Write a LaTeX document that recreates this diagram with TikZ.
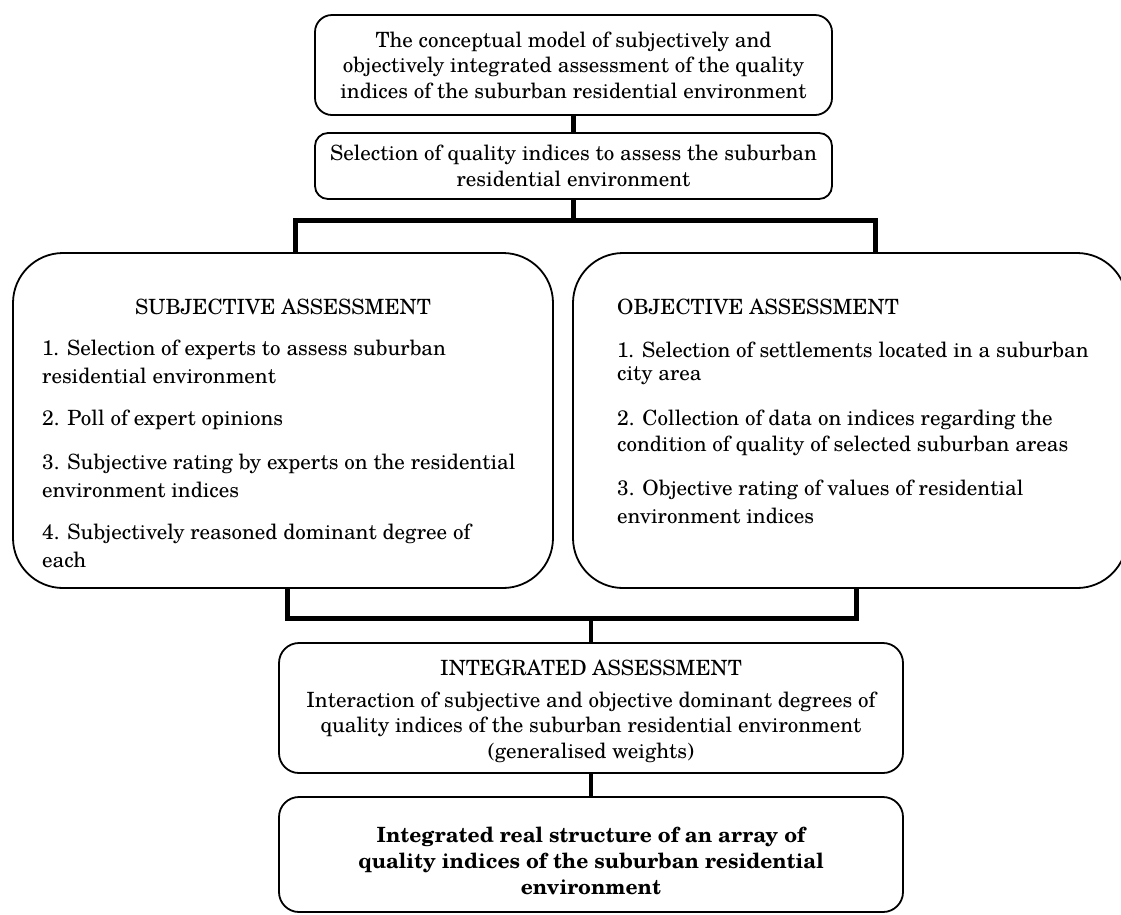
\documentclass[tikz,border=0pt]{standalone}
\usepackage{fontspec}
\setmainfont{texgyreschola}[Extension=.otf, UprightFont=*-regular, BoldFont=*-bold, ItalicFont=*-italic, BoldItalicFont=*-bolditalic]
\begin{document}
\begin{tikzpicture}[x=1pt,y=-1pt,
  every node/.style={font=\fontsize{21}{25.5}\selectfont},
  box/.style={draw, line width=1.8pt, inner sep=0pt, align=center},
  txt/.style={inner sep=0pt, anchor=west, align=left},
  ctxt/.style={inner sep=0pt, align=center},
  bar/.style={line width=5pt},
  conn/.style={line width=5pt},
  lconn/.style={line width=4pt}]
\useasboundingbox (0,0) rectangle (1121,914);
% boxes
\node[box, rounded corners=17pt, minimum width=517pt, minimum height=100pt] (top) at (573.5,65)
  {The conceptual model of subjectively and\\objectively integrated assessment of the quality\\indices of the suburban residential environment};
\node[box, rounded corners=13pt, minimum width=517pt, minimum height=66pt] (sel) at (573.5,166)
  {Selection of quality indices to assess the suburban\\residential environment};
\node[box, rounded corners=50pt, minimum width=540pt, minimum height=335pt] (subj) at (283,420.5) {};
\node[box, rounded corners=50pt, minimum width=554pt, minimum height=335pt] (obj) at (850,420.5) {};
\node[box, rounded corners=20pt, minimum width=624pt, minimum height=130pt] (integ) at (591,708) {};
\node[box, rounded corners=20pt, minimum width=624pt, minimum height=115pt] (final) at (591,854.5) {};
% texts in big boxes
\node[ctxt] (subjh) at (283,307) {SUBJECTIVE ASSESSMENT};
\node[txt] (s1a) at (42,350) {1. Selection of experts to assess suburban};
\node[txt] (s1b) at (42,376) {residential environment};
\node[txt] (s2) at (42,420) {2. Poll of expert opinions};
\node[txt] (s3a) at (42,464) {3. Subjective rating by experts on the residential};
\node[txt] (s3b) at (42,490) {environment indices};
\node[txt] (s4a) at (42,534) {4. Subjectively reasoned dominant degree of};
\node[txt] (s4b) at (42,560) {each};
\node[txt] (objh) at (617,307) {OBJECTIVE ASSESSMENT};
\node[txt] (o1a) at (617,350) {1. Selection of settlements located in a suburban};
\node[txt] (o1b) at (617,376) {city area};
\node[txt] (o2a) at (617,420) {2. Collection of data on indices regarding the};
\node[txt] (o2b) at (617,446) {condition of quality of selected suburban areas};
\node[txt] (o3a) at (617,490) {3. Objective rating of values of residential};
\node[txt] (o3b) at (617,516) {environment indices};
% texts in integrated box
\node[ctxt] (integh) at (591,668) {INTEGRATED ASSESSMENT};
\node[ctxt] (integt) at (591,727)
  {Interaction of subjective and objective dominant degrees of\\quality indices of the suburban residential environment\\(generalised weights)};
\node[ctxt, font=\fontsize{21}{26}\selectfont\bfseries] (finalt) at (591,861)
  {Integrated real structure of an array of\\quality indices of the suburban residential\\environment};
% connectors
\coordinate (j1) at (573.5,220);
\coordinate (b1l) at (295,220);
\coordinate (b1r) at (875,220);
\coordinate (j2) at (591,618);
\coordinate (b2l) at (287,618);
\coordinate (b2r) at (856,618);
\draw[conn] (top.south) -- (sel.north);
\draw[conn] (sel.south) -- (j1);
\draw[bar] (subj.north -| b1l) -- (b1l) -- (b1r) -- (obj.north -| b1r);
\draw[bar] (subj.south -| b2l) -- (b2l) -- (b2r) -- (obj.south -| b2r);
\draw[lconn] (j2) -- (integ.north);
\draw[lconn] (integ.south) -- (final.north);
\end{tikzpicture}
\end{document}
